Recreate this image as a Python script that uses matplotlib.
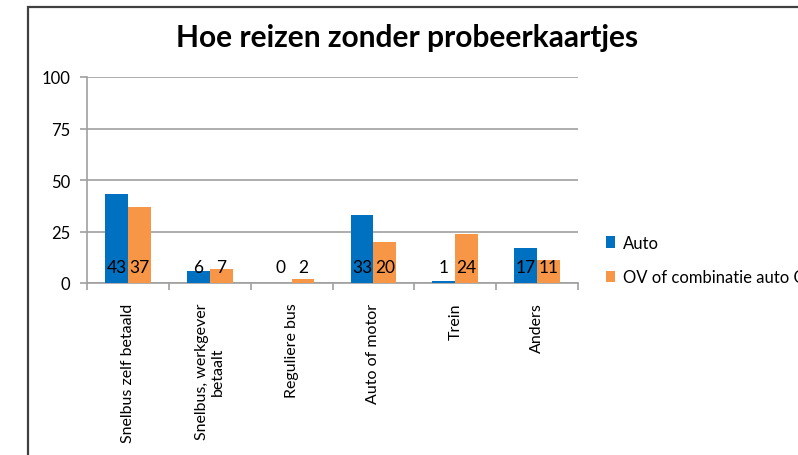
import matplotlib
matplotlib.use("Agg")
import matplotlib.pyplot as plt
from matplotlib.patches import Rectangle
import numpy as np

categories = ["Snelbus zelf betaald", "Snelbus, werkgever\nbetaalt", "Reguliere bus",
              "Auto of motor", "Trein", "Anders"]
auto = [43, 6, 0, 33, 1, 17]
ov = [37, 7, 2, 20, 24, 11]
series_names = ["Auto", "OV of combinatie auto OV"]
yticks = [0, 25, 50, 75, 100]
title = "Hoe reizen zonder probeerkaartjes"

plt.rcParams['font.family'] = ['Lato', 'DejaVu Sans']

W, H = 798, 456
fig = plt.figure(figsize=(W / 100, H / 100), dpi=100)

# outer chart frame
fig.patches.append(Rectangle((28 / W, -0.05), 1.2, 1.05 - 8 / H, transform=fig.transFigure,
                             fill=False, edgecolor='#404040', linewidth=1.6))

ax = fig.add_axes([87 / W, 1 - 284 / H, (578 - 87) / W, (284 - 78) / H])
x = np.arange(len(categories))
bw = 0.28
b1 = ax.bar(x - bw / 2, auto, bw, color='#0070C0', label=series_names[0], zorder=3)
b2 = ax.bar(x + bw / 2, ov, bw, color='#F79646', label=series_names[1], zorder=3)

for bars, vals in ((b1, auto), (b2, ov)):
    for r, v in zip(bars, vals):
        ax.annotate(str(v), (r.get_x() + r.get_width() / 2, 0), xytext=(0, 11.5),
                    textcoords='offset points', ha='center', va='center',
                    fontsize=12.5, color='black', zorder=4)

ax.set_xlim(-0.5, len(categories) - 0.5)
ax.set_ylim(0, 100)
ax.set_yticks(yticks)
ax.set_yticklabels([str(t) for t in yticks], fontsize=12)
ax.yaxis.grid(True, color='#a0a0a0', linewidth=1.2, zorder=0)
ax.set_xticks(np.arange(-0.5, len(categories) + 0.5, 1))
ax.set_xticklabels([])
ax.set_xticks(x, minor=True)
ax.set_xticklabels(categories, minor=True, rotation=90, fontsize=11.5, ha='center', va='top',
                   multialignment='center')
ax.tick_params(axis='x', which='minor', length=0, pad=14)
ax.tick_params(axis='x', which='major', length=5, color='#a0a0a0', width=1.2)
ax.tick_params(axis='y', length=5, color='#a0a0a0', width=1.2, pad=7)
for s in ['top', 'right']:
    ax.spines[s].set_visible(False)
for s in ['left', 'bottom']:
    ax.spines[s].set_color('#a0a0a0')
    ax.spines[s].set_linewidth(1.2)

fig.text(407 / W, 1 - 38 / H, title, ha='center', va='center', fontsize=21.5, fontweight='bold')

leg = fig.legend(handles=[b1, b2], labels=series_names, loc='upper left',
                 bbox_to_anchor=(606 / W, 1 - 236 / H), frameon=False, fontsize=12,
                 handlelength=0.55, handleheight=0.7, handletextpad=0.45, labelspacing=1.1,
                 borderpad=0, borderaxespad=0)

fig.savefig("out.png", dpi=100)
